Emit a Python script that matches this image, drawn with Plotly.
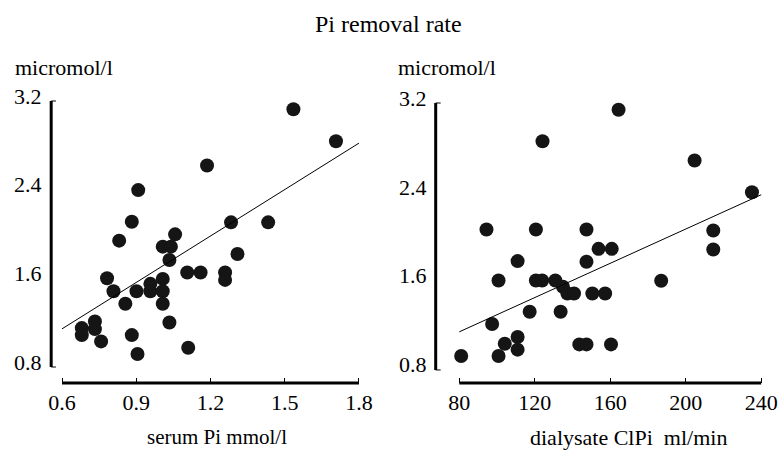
import plotly.graph_objects as go

# Left panel: serum Pi (mmol/l) vs Pi removal rate (micromol/l)
serum_pi = [1.535, 1.707, 1.186, 0.908, 0.882, 1.283, 1.433, 0.831, 1.057, 1.007,
            1.040, 1.034, 1.309, 0.782, 1.106, 1.160, 1.259, 1.259, 1.007, 0.808,
            0.957, 0.957, 0.901, 1.007, 0.856, 1.007, 1.034, 0.733, 0.733, 0.680,
            0.680, 0.758, 0.882, 1.110, 0.905]
removal_left = [3.125, 2.837, 2.618, 2.396, 2.111, 2.105, 2.105, 1.940, 1.997, 1.886,
                1.886, 1.766, 1.820, 1.601, 1.652, 1.652, 1.652, 1.586, 1.595, 1.484,
                1.550, 1.484, 1.484, 1.484, 1.370, 1.370, 1.202, 1.211, 1.142, 1.151,
                1.088, 1.031, 1.088, 0.974, 0.917]
fit_left_x = [0.6, 1.8]
fit_left_y = [1.144, 2.820]

# Right panel: dialysate ClPi (ml/min) vs Pi removal rate
clpi = [164.4, 124.1, 204.7, 235.1, 94.4, 120.6, 147.4, 214.6, 214.6, 153.8,
        160.8, 110.9, 147.4, 100.8, 120.6, 123.9, 130.9, 134.9, 137.3, 140.8,
        150.5, 157.3, 187.0, 117.3, 133.7, 97.4, 110.9, 104.1, 110.9, 81.0,
        100.8, 143.6, 147.4, 160.4]
removal_right = [3.140, 2.856, 2.683, 2.398, 2.063, 2.063, 2.063, 2.054, 1.883, 1.889,
                 1.889, 1.779, 1.773, 1.605, 1.605, 1.605, 1.605, 1.548, 1.488, 1.488,
                 1.488, 1.488, 1.602, 1.324, 1.324, 1.213, 1.096, 1.036, 0.983, 0.926,
                 0.926, 1.030, 1.030, 1.030]
fit_right_x = [80, 240]
fit_right_y = [1.143, 2.375]

left_xticks = [0.6, 0.9, 1.2, 1.5, 1.8]
right_xticks = [80, 120, 160, 200, 240]
yticks = [0.8, 1.6, 2.4, 3.2]
ytick_text = ["0.8", "1.6", "2.4", "3.2"]

FONT = "Liberation Serif, Times New Roman, serif"
W, H = 783, 450
MK = "#151515"

fig = go.Figure()
fig.add_trace(go.Scatter(x=serum_pi, y=removal_left, mode="markers",
                         marker=dict(size=14, color=MK), xaxis="x", yaxis="y",
                         cliponaxis=False, showlegend=False))
fig.add_trace(go.Scatter(x=fit_left_x, y=fit_left_y, mode="lines",
                         line=dict(color="black", width=1), xaxis="x", yaxis="y",
                         showlegend=False))
fig.add_trace(go.Scatter(x=clpi, y=removal_right, mode="markers",
                         marker=dict(size=14, color=MK), xaxis="x2", yaxis="y2",
                         cliponaxis=False, showlegend=False))
fig.add_trace(go.Scatter(x=fit_right_x, y=fit_right_y, mode="lines",
                         line=dict(color="black", width=1), xaxis="x2", yaxis="y2",
                         showlegend=False))

ydom = [1 - 383 / H, 1 - 95 / H]
common_x = dict(showgrid=False, zeroline=False, showline=False, ticks="inside",
                ticklen=5, tickwidth=1, tickcolor="black",
                tickfont=dict(family=FONT, size=22, color="black"),
                ticklabelstandoff=4)
common_y = dict(showgrid=False, zeroline=False, showline=False, ticks="",
                showticklabels=False)

fig.update_layout(
    width=W, height=H, margin=dict(l=0, r=0, t=0, b=0),
    paper_bgcolor="white", plot_bgcolor="white",
    xaxis=dict(domain=[49 / W, 369 / W], range=[0.5563, 1.8278],
               tickvals=left_xticks, ticktext=[f"{v:.1f}" for v in left_xticks],
               anchor="y", **common_x),
    yaxis=dict(domain=ydom, range=[0.6556, 3.2541], anchor="x", **common_y),
    xaxis2=dict(domain=[440 / W, 778 / W], range=[67.49, 243.65],
                tickvals=right_xticks, ticktext=[str(v) for v in right_xticks],
                anchor="y2", **common_x),
    yaxis2=dict(domain=ydom, range=[0.683, 3.272], anchor="x2", **common_y),
)

shapes = []
for xa, ya, x0, x1, y0, y1 in [("x", "y", 0.6, 1.8, 0.8, 3.2),
                               ("x2", "y2", 80, 240, 0.8, 3.2)]:
    shapes.append(dict(type="line", xref=xa, yref=f"{ya} domain", x0=x0, x1=x1,
                       y0=0, y1=0, line=dict(color="black", width=3)))
    shapes.append(dict(type="line", xref=f"{xa} domain", yref=ya, x0=0, x1=0,
                       y0=y0, y1=y1, line=dict(color="black", width=3)))
    for yy in (y0, y1):
        shapes.append(dict(type="line", xref=f"{xa} domain", yref=ya, x0=0, x1=0.015,
                           y0=yy, y1=yy, line=dict(color="black", width=1)))
fig.update_layout(shapes=shapes)

ann = [
    dict(text="Pi removal rate", x=392 / W, y=1 - 24 / H, xref="paper", yref="paper",
         showarrow=False, font=dict(family=FONT, size=24, color="black"),
         xanchor="center", yanchor="middle"),
    dict(text="micromol/l", x=10 / W, y=1 - 68 / H, xref="paper", yref="paper",
         showarrow=False, font=dict(family=FONT, size=22, color="black"),
         xanchor="left", yanchor="middle"),
    dict(text="micromol/l", x=400 / W, y=1 - 68 / H, xref="paper", yref="paper",
         showarrow=False, font=dict(family=FONT, size=22, color="black"),
         xanchor="left", yanchor="middle"),
    dict(text="serum Pi mmol/l", x=218 / W, y=1 - 437 / H, xref="paper", yref="paper",
         showarrow=False, font=dict(family=FONT, size=21, color="black"),
         xanchor="center", yanchor="middle"),
    dict(text="dialysate ClPi&nbsp;&nbsp;ml/min", x=636 / W, y=1 - 437 / H, xref="paper",
         yref="paper", showarrow=False, font=dict(family=FONT, size=22, color="black"),
         xanchor="center", yanchor="middle"),
]
# y tick labels, sitting slightly above their tick positions as in the reference
for xa, ya in [("x", "y"), ("x2", "y2")]:
    for v, t in zip(yticks, ytick_text):
        ann.append(dict(text=t, x=0, y=v, xref=f"{xa} domain", yref=ya,
                        xanchor="right", yanchor="middle", xshift=-7, yshift=5,
                        showarrow=False,
                        font=dict(family=FONT, size=22, color="black")))
fig.update_layout(annotations=ann)

fig.write_html("out.html",
               config={"displayModeBar": False},
               post_script="document.body.style.margin='0';document.body.style.overflow='hidden';")
